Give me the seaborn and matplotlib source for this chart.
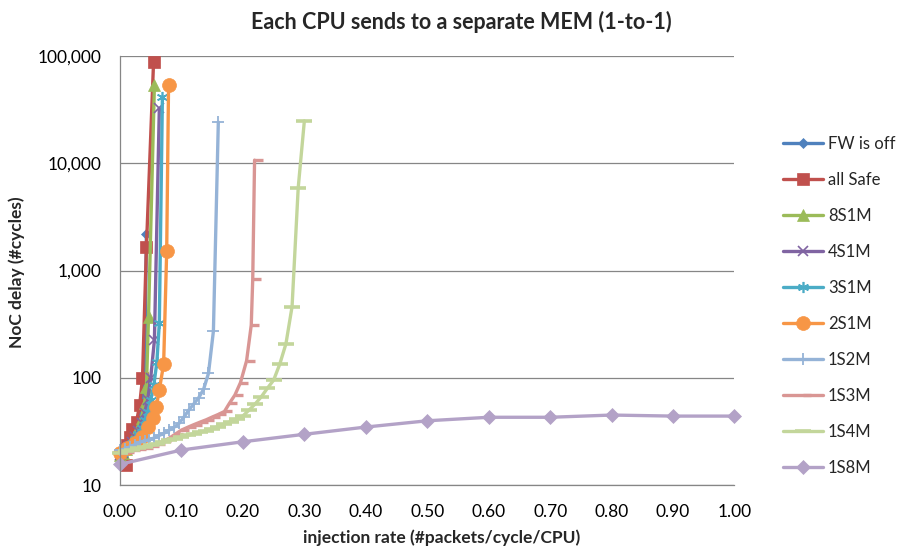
import numpy as np
import pandas as pd
import matplotlib
matplotlib.use("Agg")
import matplotlib.pyplot as plt
from matplotlib.path import Path
from matplotlib.ticker import FuncFormatter, FixedLocator, NullLocator
import seaborn as sns

# ---------------- data ----------------
series_names = ["FW is off", "all Safe", "8S1M", "4S1M", "3S1M", "2S1M",
                "1S2M", "1S3M", "1S4M", "1S8M"]

fw_x = [0.000, 0.005, 0.010, 0.015, 0.020, 0.025, 0.030, 0.035, 0.040, 0.043]
fw_y = [18, 19.5, 21, 23, 26, 30, 37, 50, 90, 2180]

safe_x = [0.010, 0.012, 0.0155, 0.020, 0.027, 0.032, 0.0366, 0.043, 0.0546]
safe_y = [15.5, 23.6, 28, 33, 39, 56, 99, 1650, 87500]

s8s1m_x = [0.000, 0.005, 0.010, 0.015, 0.020, 0.025, 0.030, 0.035, 0.040, 0.043, 0.0464, 0.056]
s8s1m_y = [19, 20, 21.5, 23.5, 26, 29, 34, 42, 58, 82, 368, 54000]

s4s1m_x = [0.000, 0.005, 0.010, 0.015, 0.020, 0.025, 0.030, 0.035, 0.040, 0.045, 0.050, 0.056, 0.064]
s4s1m_y = [19, 20, 21.5, 23, 25, 28, 32, 38, 47, 62, 100, 224, 32600]

s3s1m_x = [0.000, 0.005, 0.010, 0.015, 0.020, 0.025, 0.030, 0.035, 0.040, 0.045, 0.050, 0.055, 0.060, 0.064, 0.069]
s3s1m_y = [19, 20, 21, 22.5, 24.5, 27, 30, 34, 40, 48, 62, 85, 140, 324, 41300]

s2s1m_x = [0.000, 0.012, 0.024, 0.035, 0.045, 0.053, 0.059, 0.064, 0.071, 0.076, 0.079]
s2s1m_y = [20, 22, 24.6, 28, 34.7, 42, 53, 77, 134, 1520, 53500]

s1s2m_x = [0.000, 0.008, 0.016, 0.024, 0.032, 0.040, 0.048, 0.056, 0.064, 0.072, 0.080,
           0.088, 0.096, 0.104, 0.112, 0.120, 0.128, 0.136, 0.144, 0.152, 0.160]
s1s2m_y = [21, 21.8, 22.7, 23.8, 25, 25.8, 26.5, 27.5, 29, 30.5, 32.5,
           34.5, 37.5, 43, 50, 57, 65, 78, 110, 272, 24200]

s1s3m_x = [0.00, 0.01, 0.02, 0.03, 0.04, 0.05, 0.06, 0.07, 0.08, 0.09, 0.10, 0.11, 0.12,
           0.13, 0.14, 0.15, 0.16, 0.17, 0.178, 0.187, 0.196, 0.206, 0.2136, 0.216, 0.219]
s1s3m_y = [20, 20.5, 21, 21.7, 22.3, 23, 24.2, 25.6, 27.3, 29.8, 32.5, 34.5, 36.5,
           38.5, 40.5, 43, 45.5, 48.5, 57.7, 69, 90, 144, 310, 826, 10700]

s1s4m_x = [0.00, 0.01, 0.02, 0.03, 0.04, 0.05, 0.06, 0.07, 0.08, 0.09, 0.10, 0.11, 0.12,
           0.13, 0.14, 0.15, 0.16, 0.17, 0.18, 0.19, 0.20, 0.21, 0.22, 0.23, 0.24, 0.25,
           0.26, 0.27, 0.28, 0.29, 0.30]
s1s4m_y = [20, 20.7, 21.3, 22, 22.7, 23.4, 24, 25, 26, 27, 28, 29, 30,
           31, 32, 33.5, 35, 37, 39, 41.5, 44, 50, 57, 66.5, 80, 95,
           134, 207, 460, 5900, 24800]

s1s8m_x = [0.0, 0.1, 0.2, 0.3, 0.4, 0.5, 0.6, 0.7, 0.8, 0.9, 1.0]
s1s8m_y = [15.6, 21.2, 25.3, 29.7, 34.7, 39.7, 42.8, 42.8, 44.9, 43.9, 43.9]

x_ticks = [0.0, 0.1, 0.2, 0.3, 0.4, 0.5, 0.6, 0.7, 0.8, 0.9, 1.0]
y_ticks = [10, 100, 1000, 10000, 100000]

title = "Each CPU sends to a separate MEM (1-to-1)"
x_label = "injection rate (#packets/cycle/CPU)"
y_label = "NoC delay (#cycles)"

# ---------------- styling ----------------
sns.set_style("white")
plt.rcParams["font.family"] = ["Lato", "DejaVu Sans"]

colors = ["#4F81BD", "#C0504D", "#9BBB59", "#8064A2", "#4BACC6", "#F79646",
          "#95B3D7", "#D99694", "#C3D69B", "#B3A2C7"]

half_dash = Path([(0, 0), (1, 0)], [Path.MOVETO, Path.LINETO])

styles = [
    dict(marker="D", markersize=5, markeredgewidth=0.5),
    dict(marker="s", markersize=8.5, markeredgewidth=0.5),
    dict(marker="^", markersize=8.5, markeredgewidth=0.5),
    dict(marker="x", markersize=7, markeredgewidth=1.2),
    dict(marker=(6, 2, 0), markersize=8, markeredgewidth=1.2),
    dict(marker="o", markersize=10, markeredgewidth=0.5),
    dict(marker="+", markersize=8.5, markeredgewidth=1.3),
    dict(marker=half_dash, markersize=11, markeredgewidth=2.4),
    dict(marker="_", markersize=11, markeredgewidth=2.6),
    dict(marker="D", markersize=7.5, markeredgewidth=0.5),
]

all_x = [fw_x, safe_x, s8s1m_x, s4s1m_x, s3s1m_x, s2s1m_x, s1s2m_x, s1s3m_x, s1s4m_x, s1s8m_x]
all_y = [fw_y, safe_y, s8s1m_y, s4s1m_y, s3s1m_y, s2s1m_y, s1s2m_y, s1s3m_y, s1s4m_y, s1s8m_y]

W, H = 898, 556
fig = plt.figure(figsize=(W / 100, H / 100), dpi=100)
left, right, top, bottom = 120, 734.5, 56, 485
ax = fig.add_axes([left / W, 1 - bottom / H, (right - left) / W, (bottom - top) / H])

for name, xs, ys, col, st in zip(series_names, all_x, all_y, colors, styles):
    df = pd.DataFrame({"x": xs, "y": ys})
    sns.lineplot(data=df, x="x", y="y", ax=ax, color=col, lw=2.4,
                 estimator=None, sort=False, label=name,
                 markerfacecolor=col, markeredgecolor=col, clip_on=False, **st)

ax.set_yscale("log")
ax.set_xlim(0, 1)
ax.set_ylim(10, 100000)
ax.xaxis.set_major_locator(FixedLocator(x_ticks))
ax.yaxis.set_major_locator(FixedLocator(y_ticks))
ax.yaxis.set_minor_locator(NullLocator())
ax.xaxis.set_major_formatter(FuncFormatter(lambda v, p: f"{v:.2f}"))
ax.yaxis.set_major_formatter(FuncFormatter(lambda v, p: f"{v:,.0f}"))

ax.yaxis.grid(True, color="#868686", lw=0.9)
ax.xaxis.grid(False)
ax.set_axisbelow(True)
for s in ["top", "right"]:
    ax.spines[s].set_visible(False)
for s in ["left", "bottom"]:
    ax.spines[s].set_color("#868686")
    ax.spines[s].set_linewidth(0.9)
ax.tick_params(axis="both", direction="out", length=5, width=0.9, color="#868686",
               labelsize=12.5, labelcolor="black")
ax.tick_params(axis="x", pad=9)
ax.tick_params(axis="y", pad=8)

ax.set_xlabel("")
ax.set_ylabel("")
fig.text(461 / W, 1 - 22 / H, title, ha="center", va="center",
         fontsize=15.5, fontweight="bold")
fig.text(442 / W, 1 - 538 / H, x_label, ha="center", va="center",
         fontsize=12.5, fontweight="bold")
fig.text(17 / W, 1 - 272 / H, y_label, ha="center", va="center",
         fontsize=12.5, fontweight="bold", rotation=90)

leg = ax.legend(loc="center left", bbox_to_anchor=(783 / W, 1 - 306 / H),
                bbox_transform=fig.transFigure, frameon=False, fontsize=12,
                handlelength=2.4, handletextpad=0.3, labelspacing=1.2,
                borderpad=0, borderaxespad=0)

fig.savefig("out.png", dpi=100)
